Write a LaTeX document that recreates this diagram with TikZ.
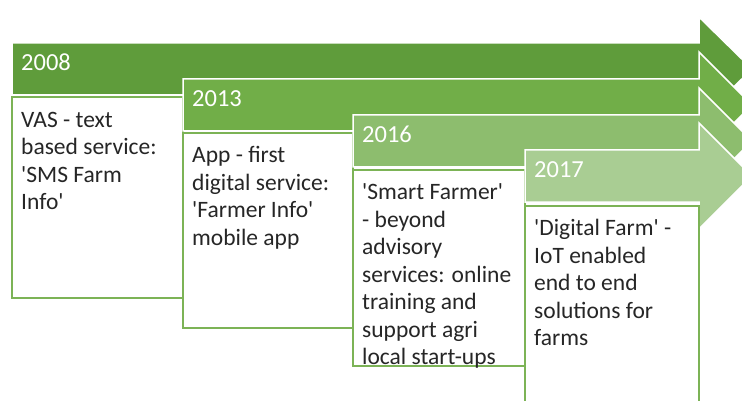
\documentclass[tikz,border=0pt]{standalone}
\usepackage{fontspec}
\setmainfont{Carlito}[Ligatures=TeXOff]
\definecolor{greenA}{HTML}{5F9C3B}
\definecolor{greenB}{HTML}{71AE48}
\definecolor{greenC}{HTML}{8DBD6E}
\definecolor{greenD}{HTML}{A9CD93}
\definecolor{boxline}{HTML}{7CB356}
\tikzset{
  yeararrow/.style={draw=white, line width=1.5pt, line join=miter},
  yearlabel/.style={anchor=base west, inner sep=0pt, text=white},
  infobox/.style={draw=boxline, fill=white, line width=1.6pt},
  infotext/.style={anchor=north west, inner sep=0pt, align=left, text=black!85}
}
\begin{document}
\begin{tikzpicture}[x=1pt, y=-1pt, font=\fontsize{23.5}{27.5}\selectfont]
                \useasboundingbox (0,0) rectangle (742,401);
                \clip (0,0) rectangle (742,401);
                % 2008
                \fill[greenA, yeararrow] (12,43)--(699,43)--(699,17)--(752,69)--(699,121)--(699,95)--(12,95)--cycle;
                \node[yearlabel] (y2008) at (21,71) {\fontsize{24.5}{28}\selectfont 2008};
                \draw[infobox] (12,97) rectangle (183,298);
                \node[infotext] (t2008) at (21,108) {\strut VAS - text\\based service:\\'SMS Farm\\Info'};
                % 2013
                \fill[greenB, yeararrow] (183,79)--(699,79)--(699,52)--(752,105)--(699,158)--(699,131)--(183,131)--cycle;
                \node[yearlabel] (y2013) at (192,107) {\fontsize{24.5}{28}\selectfont 2013};
                \draw[infobox] (183,133) rectangle (353,328);
                \node[infotext] (t2013) at (192,143.5) {\strut App - first\\digital service:\\'Farmer Info'\\mobile app};
                % 2016
                \fill[greenC, yeararrow] (353,115)--(699,115)--(699,88)--(752,141)--(699,194)--(699,167)--(353,167)--cycle;
                \node[yearlabel] (y2016) at (362,143) {\fontsize{24.5}{28}\selectfont 2016};
                \draw[infobox] (353,170) rectangle (525,366);
                \node[infotext] (t2016) at (362,180.5) {\strut 'Smart Farmer'\\- beyond\\advisory\\services: online\\training and\\support agri\\local start-ups};
                % 2017
                \fill[greenD, yeararrow] (525,150)--(699,150)--(699,123)--(752,176)--(699,229)--(699,202)--(525,202)--cycle;
                \node[yearlabel] (y2017) at (534,178) {\fontsize{24.5}{28}\selectfont 2017};
                \draw[infobox] (525,206) rectangle (699,420);
                \node[infotext] (t2017) at (534,216.5) {\strut 'Digital Farm' -\\IoT enabled\\end to end\\solutions for\\farms};
            \end{tikzpicture}
\end{document}
